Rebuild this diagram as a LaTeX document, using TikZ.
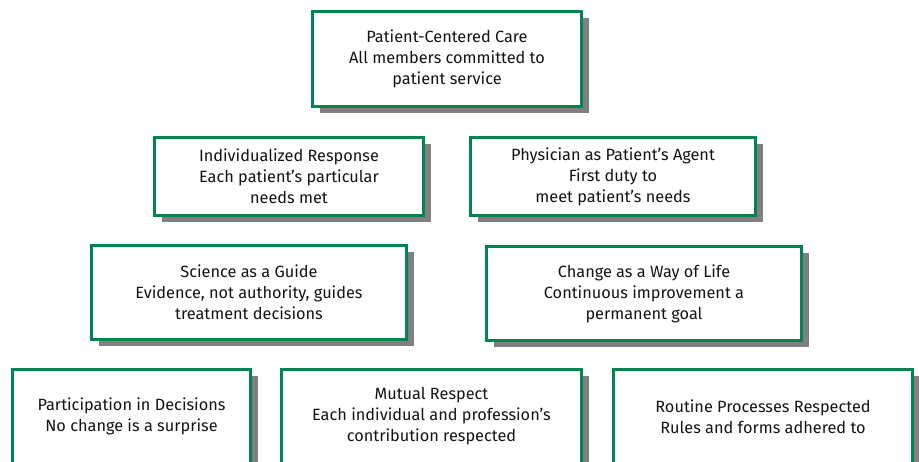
\documentclass[tikz,border=0pt]{standalone}
\usepackage{fontspec}
\setmainfont{Fira Sans}
\usetikzlibrary{positioning}
\usetikzlibrary{shadows}
\definecolor{boxgreen}{RGB}{0,133,80}
\definecolor{shadowgray}{RGB}{128,128,128}
\tikzset{
  valuebox/.style={draw=boxgreen, line width=3pt, fill=white, align=center,
    inner sep=2pt, text=black!92,
    font=\fontsize{16.3}{21}\selectfont,
    drop shadow={shadow xshift=7pt, shadow yshift=-7pt, fill=shadowgray, opacity=1}},
}

\begin{document}
\begin{tikzpicture}[x=1pt, y=-1pt]
    \useasboundingbox (0,0) rectangle (919,462);
    \clip (0,0) rectangle (919,462);
    % top
    \node[valuebox, minimum width=269pt, minimum height=95pt] (care) at (447,59)
      {Patient-Centered Care\\All members committed to\\patient service};
    % second row
    \node[valuebox, minimum width=269pt, minimum height=78pt] (indiv) at (289,176.5)
      {Individualized Response\\Each patient’s particular\\needs met};
    \node[valuebox, minimum width=285pt, minimum height=78pt] (agent) at (613,176.5)
      {Physician as Patient’s Agent\\First duty to\\meet patient’s needs};
    % third row
    \node[valuebox, minimum width=315pt, minimum height=94pt] (science) at (249,292.5)
      {Science as a Guide\\Evidence, not authority, guides\\treatment decisions};
    \node[valuebox, minimum width=315pt, minimum height=94pt] (change) at (644,293.5)
      {Change as a Way of Life\\Continuous improvement a\\permanent goal};
    % bottom row
    \node[valuebox, minimum width=238pt, minimum height=94pt] (partic) at (131.5,416.5)
      {Participation in Decisions\\No change is a surprise};
    \node[valuebox, minimum width=300pt, minimum height=94pt, right=28pt of partic] (respect)
      {Mutual Respect\\Each individual and profession’s\\contribution respected};
    \node[valuebox, minimum width=299pt, minimum height=94pt, right=29pt of respect] (routine)
      {Routine Processes Respected\\Rules and forms adhered to};
\end{tikzpicture}
\end{document}
